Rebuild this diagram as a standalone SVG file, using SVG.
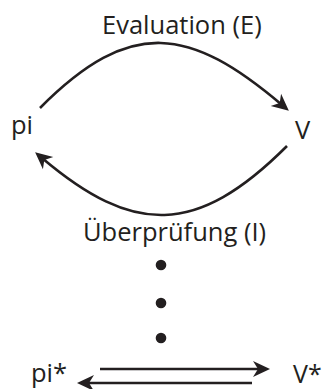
<svg xmlns="http://www.w3.org/2000/svg" width="322" height="389" viewBox="0 0 322 389">
<style>
text{font-family:"Open Sans","Noto Sans","Liberation Sans",sans-serif;font-size:25.5px;fill:#231f20}
.c{fill:none;stroke:#231f20;stroke-width:2.6}
.d{fill:#231f20}
</style>
<defs>
<marker id="ah" markerUnits="userSpaceOnUse" markerWidth="20" markerHeight="20" viewBox="0 -10 20 20" refX="8" refY="0" orient="auto" overflow="visible">
<path d="M17,0 L0,-8 L5,0 L0,8 Z" fill="#231f20"/>
</marker>
</defs>
<rect width="322" height="389" fill="#fff"/>
<g id="connectors">
<path class="c" d="M40,108 C131,16.5 190,27 282,105" marker-end="url(#ah)"/>
<path class="c" d="M287,146 C196,237 133,235 42,158" marker-end="url(#ah)"/>
<path class="c" d="M100,369 H261" marker-end="url(#ah)"/>
<path class="c" d="M252,383 H86" marker-end="url(#ah)"/>
</g>
<g id="label-E"><text x="102" y="34">Evaluation (E)</text></g>
<g id="node-pi"><text x="11" y="134">pi</text></g>
<g id="node-V"><text x="295" y="139">V</text></g>
<g id="label-I"><text x="83" y="241">Überprüfung (I)</text></g>
<g id="dots">
<circle class="d" cx="161" cy="265" r="5.3"/>
<circle class="d" cx="161" cy="303" r="5.3"/>
<circle class="d" cx="161" cy="338" r="5.3"/>
</g>
<g id="node-pistar"><text x="31" y="382">pi*</text></g>
<g id="node-Vstar"><text x="293" y="383" style="font-size:25px">V*</text></g>
</svg>
